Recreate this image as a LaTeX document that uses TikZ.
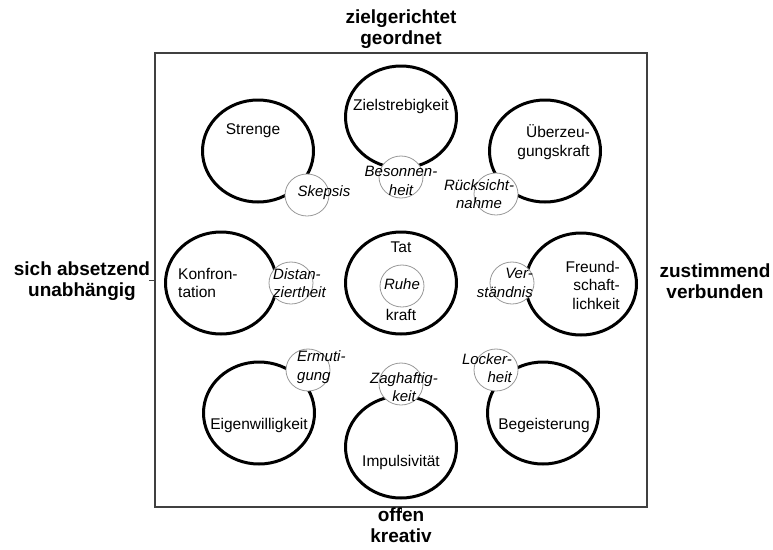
\documentclass[tikz,border=0pt]{standalone}
\usepackage{fontspec}
\setmainfont{Liberation Sans}
\usepackage{tikz}
\usetikzlibrary{shapes.geometric}

\tikzset{
  bigring/.style={draw, shape=ellipse, line width=3pt, minimum width=111pt, minimum height=102pt, inner sep=0pt},
  smallring/.style={draw=black!40, fill=white, shape=ellipse, line width=0.8pt, minimum width=44pt, minimum height=42pt, inner sep=0pt},
  word/.style={inner sep=0pt, font=\fontsize{15.5}{18.5}\selectfont},
  itword/.style={inner sep=0pt, font=\fontsize{15}{18.5}\selectfont\itshape},
  pole/.style={inner sep=0pt, align=center, font=\fontsize{19}{21.5}\selectfont\bfseries}
}

\begin{document}
\begin{tikzpicture}[x=1pt, y=-1pt]
\useasboundingbox (0,0) rectangle (773,549);
\node[draw=black!75, line width=1.2pt, minimum width=492pt, minimum height=454pt, inner sep=0pt] (frame) at (401,280) {};
\draw[black!75, line width=0.8pt] (frame.west) -- ++(-5,0);
\draw[black!75, line width=0.8pt] (frame.south) -- ++(0,5);
\node[pole] (top) at (401,29) {zielgerichtet\\geordnet};
\node[pole] (left) at (82,281) {sich absetzend\\unabhängig};
\node[pole] (right) at (715,281) {zustimmend\\verbunden};
\node[pole] (bottom) at (401,525) {offen\\kreativ};
\node[bigring] (ziel) at (401,117) {};
\node[bigring] (streng) at (258,151) {};
\node[bigring] (ueber) at (545,151) {};
\node[bigring] (konfr) at (221,283) {};
\node[bigring] (tat) at (401,283) {};
\node[bigring] (freund) at (581,284) {};
\node[bigring] (eigen) at (259,413) {};
\node[bigring] (impuls) at (401,447) {};
\node[bigring] (begeist) at (543,413) {};
\node[smallring] (beson) at (401,177) {};
\node[smallring] (skep) at (307,195) {};
\node[smallring] (rueck) at (496,194) {};
\node[smallring] (dist) at (291,283) {};
\node[smallring] (ruhe) at (402,286) {};
\node[smallring] (verst) at (512,283) {};
\node[smallring] (ermut) at (308,370) {};
\node[smallring] (zag) at (401,384) {};
\node[smallring] (locker) at (496,370) {};
\node[word] (zielT) at (401,106) {Zielstrebigkeit};
\node[word] (strengT) at (253,131) {Strenge};
\node[word, align=right, anchor=east] (ueberT) at (590,142) {Überzeu-\\gungskraft};
\node[itword, align=center] (besonT) at (401,181) {Besonnen-\\heit};
\node[itword] (skepT) at (324,193) {Skepsis};
\node[itword, align=center] (rueckT) at (479,194) {Rücksicht-\\nahme};
\node[word, align=left, anchor=west] (konfrT) at (178,283) {Konfron-\\tation};
\node[itword, align=left, anchor=west] (distT) at (273,283) {Distan-\\ziertheit};
\node[word] (tatT) at (401,247) {Tat};
\node[itword] (ruheT) at (402,284) {Ruhe};
\node[word] (kraftT) at (401,315) {kraft};
\node[itword, align=right, anchor=east] (verstT) at (533,283) {Ver-\\ständnis};
\node[word, align=right, anchor=east] (freundT) at (620,285) {Freund-\\schaft-\\lichkeit};
\node[itword, align=left, anchor=west] (ermutT) at (297,367) {Ermuti-\\gung};
\node[itword, align=center] (zagT) at (404,387) {Zaghaftig-\\keit};
\node[itword, align=right, anchor=east] (lockerT) at (512,368) {Locker-\\heit};
\node[word] (eigenT) at (259,425) {Eigenwilligkeit};
\node[word] (impulsT) at (401,462) {Impulsivität};
\node[word] (begeistT) at (544,425) {Begeisterung};
\end{tikzpicture}
\end{document}
